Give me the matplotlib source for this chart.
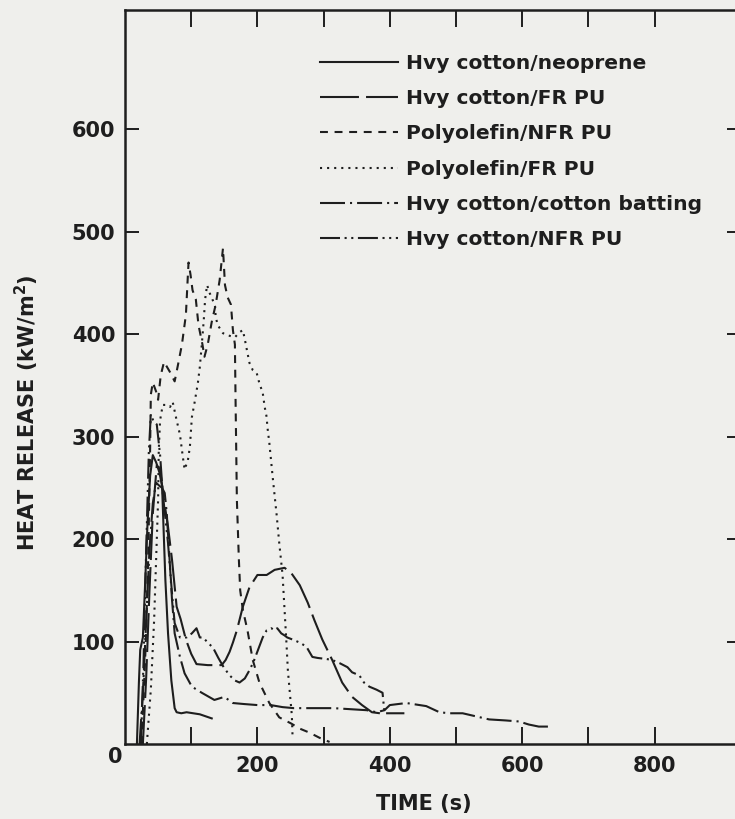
import matplotlib.pyplot as plt

# Heat release rate curves, time in s, heat release in kW/m2
neoprene_t = [18, 21, 23, 27, 30, 34, 38, 42, 47, 52, 56, 58, 61, 65, 70, 75, 78, 85, 93, 103, 113, 122, 131]
neoprene_hr = [0, 60, 92, 104, 150, 215, 262, 282, 275, 265, 252, 215, 160, 108, 62, 35, 31, 30, 31, 30, 29, 27, 25]

frpu_t = [27, 32, 37, 42, 48, 53, 58, 65, 71, 78, 84, 92, 100, 108, 125, 146, 152, 158, 163, 169, 178, 188,
          200, 214, 226, 241, 251, 264, 276, 286, 298, 313, 328, 343, 358, 373, 385]
frpu_hr = [0, 65, 150, 225, 272, 268, 242, 212, 180, 134, 122, 102, 88, 78, 77, 77, 82, 90, 99, 111, 134, 153,
           165, 165, 170, 172, 167, 155, 138, 121, 102, 82, 60, 46, 38, 31, 30]

poly_nfr_t = [25, 31, 35, 38, 39, 42, 47, 50, 54, 59, 68, 75, 80, 86, 92, 95, 96, 99, 102, 107, 111, 117, 120,
              125, 131, 137, 143, 148, 151, 155, 160, 163, 166, 167, 169, 172, 174, 178, 185, 193, 203, 218,
              233, 251, 264, 279, 294, 309]
poly_nfr_hr = [0, 92, 180, 290, 341, 353, 344, 336, 360, 373, 363, 354, 370, 390, 419, 458, 470, 458, 443, 434,
               409, 390, 378, 390, 412, 429, 453, 484, 448, 436, 429, 404, 390, 336, 238, 180, 150, 131, 111,
               82, 60, 40, 26, 20, 15, 11, 6, 2]

poly_fr_t = [33, 39, 44, 47, 50, 51, 53, 57, 63, 68, 72, 78, 83, 87, 90, 95, 98, 101, 105, 110, 113, 116, 119,
             121, 124, 128, 131, 136, 137, 140, 148, 155, 166, 173, 178, 181, 184, 188, 193, 199, 203, 208,
             211, 214, 215, 218, 223, 229, 233, 238, 241, 244, 246, 249, 252, 253]
poly_fr_hr = [0, 53, 121, 180, 238, 287, 316, 331, 331, 329, 334, 316, 302, 282, 268, 277, 290, 319, 333, 352,
              368, 390, 414, 434, 448, 440, 436, 427, 417, 409, 401, 399, 397, 402, 404, 395, 385, 372, 365,
              362, 352, 343, 329, 319, 310, 294, 261, 224, 196, 165, 131, 97, 72, 50, 28, 9]

batting_t = [22, 27, 32, 37, 42, 47, 52, 56, 60, 63, 68, 71, 75, 83, 90, 101, 116, 135, 150, 163, 180, 200,
             220, 238, 255, 273, 290, 315, 340, 365, 380, 392, 400, 425, 455, 475, 490, 510, 530, 550, 575,
             595, 610, 625, 640]
batting_hr = [0, 50, 120, 190, 235, 255, 252, 250, 245, 226, 173, 141, 108, 85, 69, 56, 50, 43, 46, 40, 39, 38,
              38, 36, 35, 35, 35, 35, 34, 33, 31, 33, 38, 40, 37, 31, 30, 30, 27, 24, 23, 22, 19, 17, 17]

nfrpu_t = [24, 28, 32, 36, 39, 43, 48, 53, 57, 65, 71, 75, 83, 93, 101, 108, 113, 118, 125, 133, 141, 149,
           158, 166, 173, 181, 188, 194, 201, 208, 214, 221, 226, 230, 236, 241, 245, 253, 264, 274, 283,
           291, 304, 313, 324, 336, 343, 354, 361, 369, 380, 389, 392, 400, 410, 422]
nfrpu_hr = [0, 80, 190, 285, 322, 315, 312, 282, 245, 196, 147, 118, 104, 104, 108, 113, 104, 104, 99, 94, 84,
            75, 67, 62, 60, 64, 72, 80, 92, 104, 111, 113, 111, 113, 108, 106, 104, 102, 99, 95, 85, 84, 83,
            82, 79, 75, 70, 67, 60, 56, 53, 50, 30, 30, 30, 30]

labels = [
    "Hvy cotton/neoprene",
    "Hvy cotton/FR PU",
    "Polyolefin/NFR PU",
    "Polyolefin/FR PU",
    "Hvy cotton/cotton batting",
    "Hvy cotton/NFR PU",
]

x_ticks = [100, 200, 300, 400, 500, 600, 700, 800]
x_tick_labels = ["", "200", "", "400", "", "600", "", "800"]
y_ticks = [100, 200, 300, 400, 500, 600]

ink = "#1e1e1e"
paper = "#efefec"

plt.rcParams.update({
    "font.family": ["DejaVu Sans"],
    "font.weight": "bold",
    "text.color": ink,
    "axes.edgecolor": ink,
    "xtick.color": ink,
    "ytick.color": ink,
})

fig = plt.figure(figsize=(7.35, 8.19), dpi=100, facecolor=paper)
# right spine falls just past the page edge
ax = fig.add_axes([125 / 735, 75 / 819, 615.7 / 735, 734.5 / 819])
ax.set_facecolor(paper)

# dash patterns in units of line width (None = solid)
styles = [
    None,
    (18.7, 3.4),
    (3.8, 3.2),
    (1.0, 2.4),
    (12, 2.4, 1, 2.4),
    (9.6, 2.2, 1, 2.2, 1, 2.2),
]
curves = [
    (neoprene_t, neoprene_hr),
    (frpu_t, frpu_hr),
    (poly_nfr_t, poly_nfr_hr),
    (poly_fr_t, poly_fr_hr),
    (batting_t, batting_hr),
    (nfrpu_t, nfrpu_hr),
]

for (t, hr), lab, dash in zip(curves, labels, styles):
    line, = ax.plot(t, hr, color=ink, lw=1.5, label=lab)
    if dash is not None:
        line.set_dashes(dash)

ax.set_xlim(0, 930)
ax.set_ylim(0, 717)

ax.set_xticks(x_ticks)
ax.set_xticklabels(x_tick_labels)
ax.set_yticks(y_ticks)
ax.set_yticklabels([str(v) for v in y_ticks])

ax.tick_params(axis="x", direction="in", top=True, bottom=True, length=12, width=1.4,
               labelsize=15, pad=9)
ax.tick_params(axis="y", direction="in", left=True, right=True, length=10, width=1.4,
               labelsize=15, pad=7)
for lbl in ax.get_xticklabels() + ax.get_yticklabels():
    lbl.set_fontweight("bold")
for sp in ax.spines.values():
    sp.set_linewidth(1.8)

# shared origin label
ax.annotate("0", xy=(0, 0), xycoords="data", xytext=(-10, -13), textcoords="offset pixels",
            ha="center", va="center", fontsize=15, fontweight="bold")

fig.text(424 / 735, 1 - 804 / 819, "TIME (s)", ha="center", va="center",
         fontsize=15, fontweight="bold")
fig.text(27 / 735, 1 - 413 / 819, r"HEAT RELEASE (kW/m$^{\mathbf{2}}$)", rotation=90,
         ha="center", va="center", fontsize=15, fontweight="bold")

leg = ax.legend(loc="upper left", bbox_to_anchor=(0.3167, 0.9394), frameon=False,
                borderpad=0, borderaxespad=0, handlelength=3.85, handletextpad=0.38,
                labelspacing=0.8, prop={"weight": "bold", "size": 14.6})
for txt in leg.get_texts():
    txt.set_color(ink)

fig.savefig("out.png", dpi=100, facecolor=paper)
